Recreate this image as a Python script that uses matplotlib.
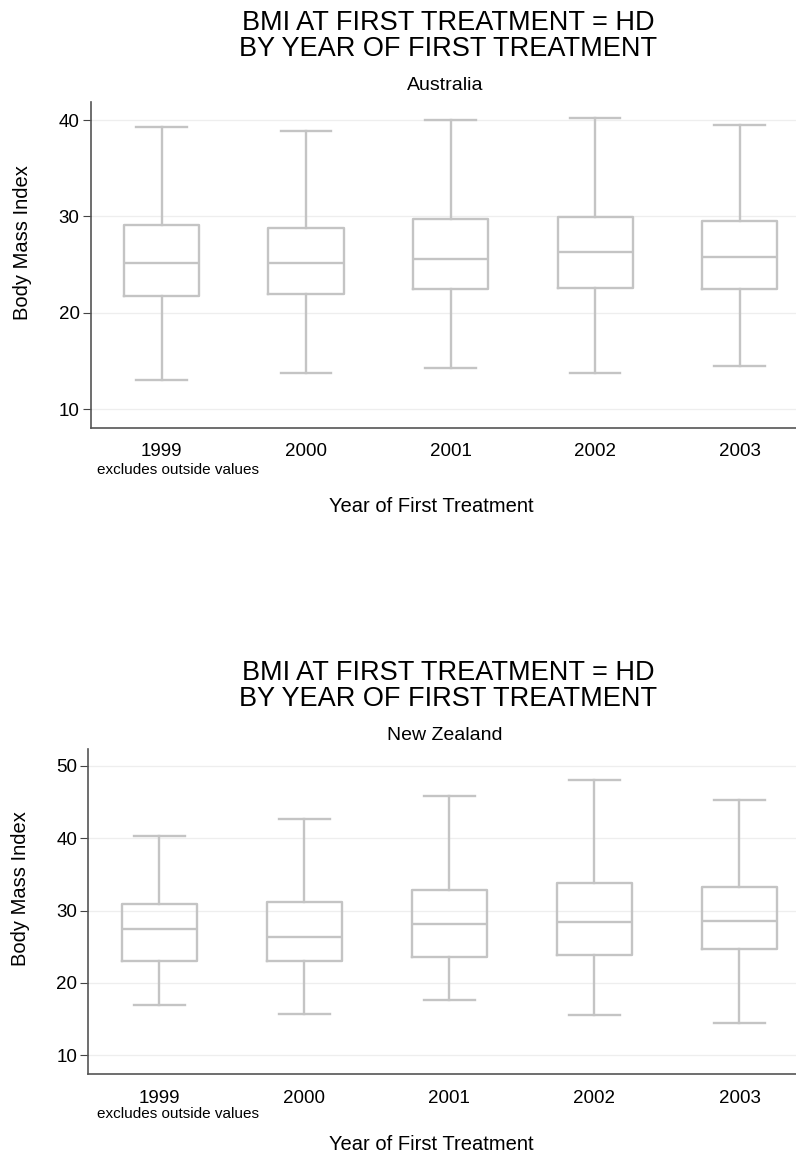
import matplotlib
matplotlib.use('Agg')
import matplotlib.pyplot as plt

plt.rcParams['font.family'] = ['Liberation Sans', 'DejaVu Sans']

years = ['1999', '2000', '2001', '2002', '2003']

# Australia: lower whisker, Q1, median, Q3, upper whisker
au_low = [13.0, 13.8, 14.3, 13.8, 14.5]
au_q1 = [21.8, 22.0, 22.5, 22.6, 22.5]
au_med = [25.2, 25.2, 25.6, 26.3, 25.8]
au_q3 = [29.1, 28.8, 29.7, 29.9, 29.5]
au_high = [39.3, 38.9, 40.0, 40.2, 39.5]

# New Zealand
nz_low = [17.0, 15.7, 17.6, 15.6, 14.5]
nz_q1 = [23.0, 23.0, 23.6, 23.9, 24.7]
nz_med = [27.4, 26.4, 28.1, 28.4, 28.6]
nz_q3 = [30.9, 31.2, 32.9, 33.8, 33.2]
nz_high = [40.3, 42.6, 45.8, 48.0, 45.2]

W, H = 796, 1157
fig = plt.figure(figsize=(W / 100, H / 100), dpi=100)

gray = '#c4c4c4'


def panel(rect, low, q1, med, q3, high, ylim, yticks, country, top_px):
    ax = fig.add_axes(rect)
    stats = []
    for i in range(len(years)):
        stats.append(dict(whislo=low[i], q1=q1[i], med=med[i], q3=q3[i],
                          whishi=high[i], fliers=[], label=years[i]))
    lp = dict(color=gray, linewidth=1.7)
    ax.bxp(stats, positions=range(1, 6), widths=0.52, capwidths=0.35,
           showfliers=False, boxprops=lp, whiskerprops=lp, capprops=lp,
           medianprops=lp, manage_ticks=False)
    ax.set_xlim(0.51, 5.39)
    ax.set_ylim(*ylim)
    ax.set_xticks(range(1, 6))
    ax.set_xticklabels(years, fontsize=13.5)
    ax.set_yticks(yticks)
    ax.set_yticklabels([str(t) for t in yticks], fontsize=13.5)
    ax.tick_params(axis='x', length=0, pad=11)
    ax.tick_params(axis='y', length=6, width=0.8, color='#444444', pad=2)
    ax.grid(axis='y', color='#eeeeee', linewidth=0.9)
    ax.set_axisbelow(True)
    for s in ['top', 'right']:
        ax.spines[s].set_visible(False)
    for s in ['left', 'bottom']:
        ax.spines[s].set_color('#555555')
        ax.spines[s].set_linewidth(1.2)

    def fy(px):
        return 1 - (top_px + px) / H

    fig.text(448 / W, fy(22.5), 'BMI AT FIRST TREATMENT = HD', ha='center', va='center', fontsize=19.5)
    fig.text(448 / W, fy(49), 'BY YEAR OF FIRST TREATMENT', ha='center', va='center', fontsize=19.5)
    fig.text(445 / W, fy(86), country, ha='center', va='center', fontsize=14)
    return ax


panel([90.7 / W, 1 - 427.7 / H, 1 - 90.7 / W, (427.7 - 101.7) / H],
      au_low, au_q1, au_med, au_q3, au_high, (8.09, 41.9), [10, 20, 30, 40], 'Australia', 0)
fig.text(178 / W, 1 - 470 / H, 'excludes outside values', ha='center', va='center', fontsize=11)
fig.text(431 / W, 1 - 507 / H, 'Year of First Treatment', ha='center', va='center', fontsize=14.5)
fig.text(22.5 / W, 1 - 242.5 / H, 'Body Mass Index', ha='center', va='center', rotation=90, fontsize=14.5)

panel([88.3 / W, 1 - 1074.3 / H, 1 - 88.3 / W, (1074.3 - 749.3) / H],
      nz_low, nz_q1, nz_med, nz_q3, nz_high, (7.38, 52.27), [10, 20, 30, 40, 50], 'New Zealand', 650)
fig.text(178 / W, 1 - 1114 / H, 'excludes outside values', ha='center', va='center', fontsize=11)
fig.text(431 / W, 1 - 1145 / H, 'Year of First Treatment', ha='center', va='center', fontsize=14.5)
fig.text(20.5 / W, 1 - 889 / H, 'Body Mass Index', ha='center', va='center', rotation=90, fontsize=14.5)

fig.savefig('out.png', dpi=100)
